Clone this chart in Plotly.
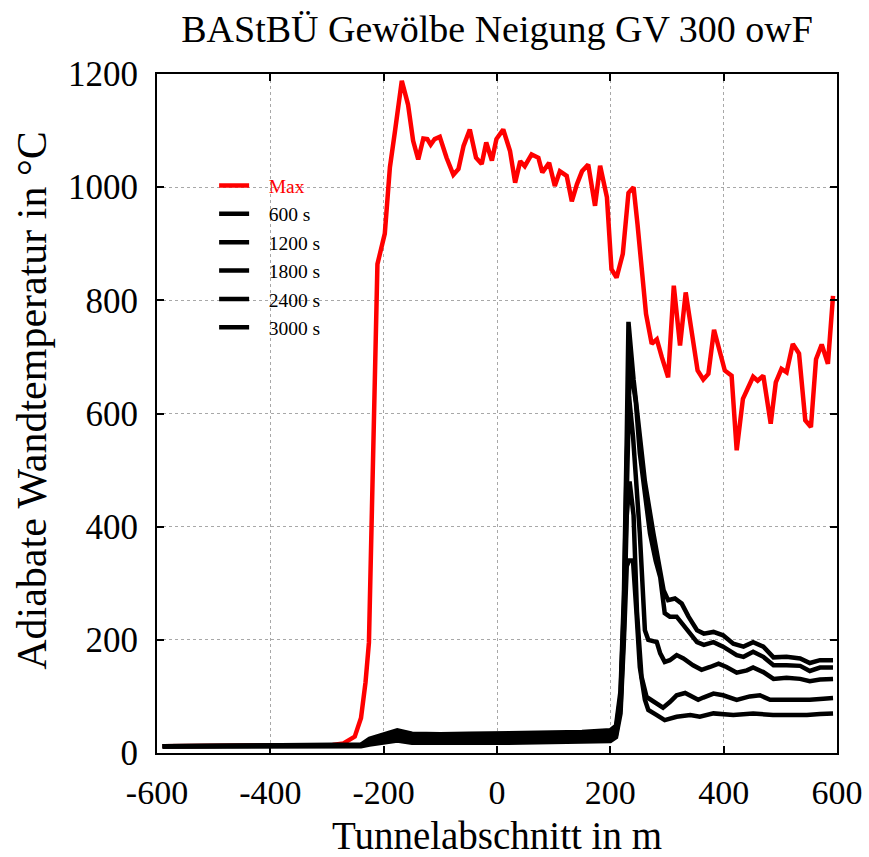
import plotly.graph_objects as go

# ---------------- data ----------------
x_max = [-590, -300, -290, -271, -251, -240, -232, -226, -220, -211, -198, -189, -180, -168,
         -157, -148, -139, -130, -123, -117, -110, -101, -89, -77, -68, -59, -48, -37, -27,
         -19, -9, -1, 11, 23, 32, 41, 49, 61, 73, 80, 92, 102, 111, 123, 132, 141, 150, 161,
         173, 182, 194, 202, 211, 222, 232, 241, 248, 255, 263, 273, 282, 291, 302, 312, 323,
         333, 344, 354, 364, 373, 383, 392, 402, 414, 423, 434, 444, 452, 460, 470, 483, 492,
         502, 511, 522, 533, 544, 554, 563, 573, 584, 593]
y_max = [12, 13, 14, 17, 29, 62, 125, 195, 480, 864, 918, 1035, 1099, 1188,
         1146, 1082, 1049, 1086, 1085, 1075, 1085, 1089, 1052, 1022, 1032, 1073, 1102, 1052, 1041,
         1079, 1047, 1085, 1102, 1064, 1008, 1046, 1037, 1058, 1052, 1026, 1043, 1002, 1028, 1020,
         975, 1005, 1028, 1040, 967, 1038, 982, 855, 840, 882, 990, 1000, 934, 852, 776, 723,
         731, 699, 664, 826, 720, 814, 735, 676, 660, 670, 748, 717, 676, 667, 535, 626, 647,
         665, 658, 667, 582, 655, 679, 673, 723, 706, 588, 576, 696, 722, 688, 808]

x_600 = [-590, -240, -225, -200, -176, -150, -100, -50, 0, 50, 100, 150, 200, 210, 218, 224,
         229, 233, 240, 246, 252, 261, 267, 282, 296, 317, 341, 358, 382, 417, 452, 487, 523,
         547, 570, 593]
y_600 = [12, 12, 15, 18, 22, 18, 17, 18, 18, 19, 19, 20, 21, 28, 70, 200,
         330, 340, 340, 250, 152, 94, 76, 67, 58, 64, 67, 64, 70, 67, 70, 67, 67,
         67, 69, 70]

x_1200 = [-590, -240, -225, -200, -176, -150, -100, -50, 0, 50, 100, 150, 200, 210, 218, 224,
          229, 234, 241, 247, 255, 264, 279, 293, 305, 317, 332, 346, 355, 364, 382, 399, 423,
          446, 464, 482, 511, 540, 552, 576, 593]
y_1200 = [12, 13, 18, 22, 28, 22, 21, 22, 22, 22, 23, 24, 25, 32, 80, 220,
          420, 480, 420, 250, 135, 99, 90, 80, 90, 102, 106, 99, 94, 98, 105, 102, 94,
          100, 102, 94, 94, 94, 94, 96, 97]

x_1800 = [-590, -240, -225, -200, -176, -150, -100, -50, 0, 50, 100, 150, 200, 210, 218, 224,
          229, 233, 240, 252, 261, 267, 282, 288, 296, 305, 317, 329, 346, 361, 376, 391, 405,
          423, 441, 452, 470, 488, 511, 535, 552, 570, 593]
y_1800 = [12, 13, 20, 25, 32, 26, 25, 26, 27, 27, 28, 29, 30, 38, 90, 240,
          480, 630, 560, 388, 217, 200, 196, 176, 161, 164, 173, 167, 155, 147, 152, 158, 152,
          142, 146, 151, 143, 131, 133, 131, 127, 130, 131]

x_2400 = [-590, -240, -225, -200, -176, -150, -100, -50, 0, 50, 100, 150, 200, 210, 218, 224,
          229, 235, 245, 252, 261, 270, 280, 288, 296, 305, 317, 335, 353, 365, 382, 399, 423,
          435, 452, 470, 488, 511, 535, 552, 570, 593]
y_2400 = [12, 14, 22, 28, 36, 30, 29, 30, 31, 31, 32, 33, 34, 42, 100, 260,
          520, 690, 620, 530, 460, 388, 340, 311, 247, 241, 241, 220, 196, 191, 196, 188, 173,
          170, 179, 170, 155, 155, 154, 145, 151, 151]

x_3000 = [-590, -240, -225, -200, -176, -150, -100, -50, 0, 50, 100, 150, 200, 210, 218, 224,
          229, 232, 241, 252, 261, 276, 294, 302, 314, 326, 338, 353, 365, 382, 399, 417, 435,
          452, 470, 488, 511, 535, 552, 570, 593]
y_3000 = [12, 15, 25, 32, 40, 34, 33, 34, 35, 35, 36, 37, 40, 48, 110, 280,
          560, 762, 660, 560, 480, 388, 288, 270, 273, 264, 241, 217, 211, 214, 208, 193, 188,
          196, 188, 169, 170, 167, 159, 164, 164]

series = [
    ("Max", x_max, y_max, "#ff0000"),
    ("600 s", x_600, y_600, "#000000"),
    ("1200 s", x_1200, y_1200, "#000000"),
    ("1800 s", x_1800, y_1800, "#000000"),
    ("2400 s", x_2400, y_2400, "#000000"),
    ("3000 s", x_3000, y_3000, "#000000"),
]

x_ticks = [-600, -400, -200, 0, 200, 400, 600]
y_ticks = [0, 200, 400, 600, 800, 1000, 1200]

title_text = "BAStBÜ Gewölbe Neigung GV 300 owF"
x_title = "Tunnelabschnitt in m"
y_title = "Adiabate Wandtemperatur in °C"

FONT = "Liberation Serif"
pad = "\u00a0" * 3

fig = go.Figure()
for i, (name, xs, ys, col) in enumerate(series):
    label = pad + (f"<span style='color:{col}'>{name}</span>" if col != "#000000" else name)
    fig.add_trace(go.Scatter(x=xs, y=ys, mode="lines", name=label,
                             line=dict(color=col, width=4.5)))

axis_common = dict(
    showline=True, linecolor="black", linewidth=2, mirror="ticks",
    ticks="inside", ticklen=7, tickwidth=2, tickcolor="black",
    showgrid=True, gridcolor="#a8a8a8", griddash="dot", gridwidth=1,
    zeroline=False, automargin=False,
)

fig.update_layout(
    width=869, height=857,
    margin=dict(l=157, r=32, t=74, b=104),
    paper_bgcolor="white", plot_bgcolor="white",
    title=dict(text=title_text, x=0.5, xref="paper", y=0.966, yanchor="middle",
               font=dict(family=FONT, size=38, color="black")),
    xaxis=dict(range=[-600, 600], tickvals=x_ticks, ticktext=[str(v) for v in x_ticks],
               tickfont=dict(family=FONT, size=34, color="black"),
               title=dict(text=x_title, font=dict(family=FONT, size=39, color="black"),
                          standoff=13),
               ticklabelstandoff=8, **axis_common),
    yaxis=dict(range=[0, 1200], tickvals=y_ticks, ticktext=[str(v) for v in y_ticks],
               tickfont=dict(family=FONT, size=35, color="black"),
               ticklabelstandoff=10, **axis_common),
    legend=dict(x=0.084, y=0.864, xanchor="left", yanchor="top",
                bgcolor="rgba(0,0,0,0)", borderwidth=0,
                tracegroupgap=0,
                font=dict(family=FONT, size=19.5, color="black")),
    showlegend=True,
    annotations=[dict(text=y_title, textangle=-90, xref="paper", yref="paper",
                      x=-0.184, y=0.52, xanchor="center", yanchor="middle",
                      showarrow=False,
                      font=dict(family=FONT, size=42, color="black"))],
)

fig.write_html("out.html")
